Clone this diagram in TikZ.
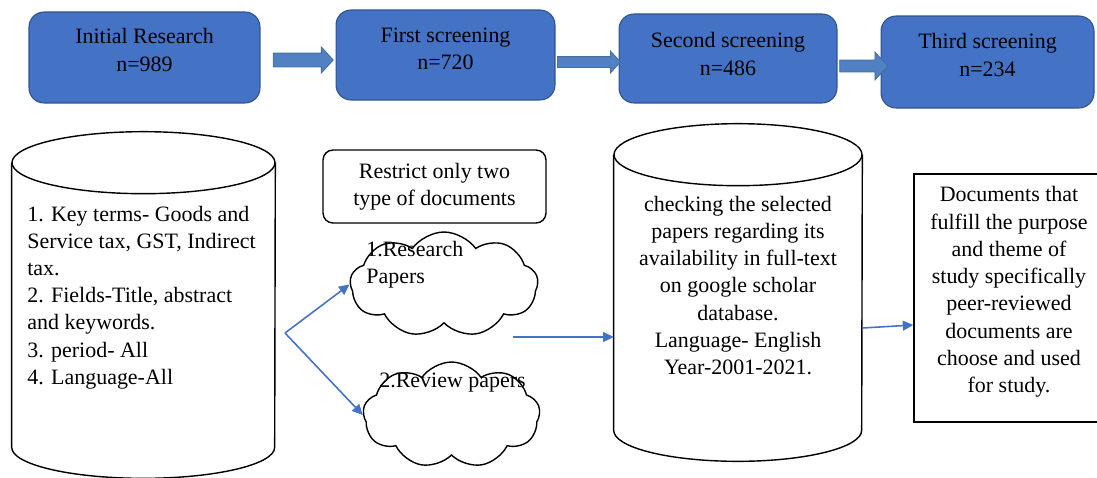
\documentclass[tikz,border=0pt]{standalone}
\usepackage{fontspec}
\setmainfont{Liberation Serif}
\usepackage{xcolor}
\definecolor{stageblue}{HTML}{4472C4}
\definecolor{stageedge}{HTML}{2F528F}
\definecolor{arrowfill}{HTML}{5181C2}
\definecolor{arrowedge}{HTML}{41719C}
\definecolor{linkblue}{HTML}{4472C4}
\usetikzlibrary{arrows.meta, positioning, shapes.symbols, shapes.arrows, calc}

\begin{document}
\begin{tikzpicture}[x=0.02cm, y=0.02cm,
    every node/.style={font=\fontsize{12.5}{15.5}\selectfont},
    stage/.style={draw=stageedge, fill=stageblue, line width=0.6pt, rounded corners=0.3cm, inner sep=0pt},
    stagetext/.style={align=center, inner sep=0pt},
    fatarrow/.style={single arrow, draw=arrowedge, fill=arrowfill, line width=0.5pt, inner sep=0pt, single arrow tip angle=95},
    outline/.style={draw, line width=0.8pt},
    puff/.style={cloud, cloud puffs=9, cloud puff arc=110, cloud ignores aspect, draw, line width=0.8pt, inner sep=0pt},
    link/.style={draw=linkblue, line width=0.9pt, -{Triangle[length=6pt, width=5.6pt]}},
  ]
  \useasboundingbox (0,0) rectangle (1097,-477);

  % screening stages
  \node[stage, minimum width=4.62cm, minimum height=1.82cm] (init) at (144.5,-57.5) {};
  \node[stagetext] (initT) at (144.5,-50) {Initial Research\\n=989};
  \node[stage, minimum width=4.38cm, minimum height=1.8cm] (first) at (445.5,-55) {};
  \node[stagetext] (firstT) at (445.5,-48.5) {First screening\\n=720};
  \node[stage, minimum width=4.36cm, minimum height=1.78cm] (second) at (728,-58.5) {};
  \node[stagetext] (secondT) at (728,-54) {Second screening\\n=486};
  \node[stage, minimum width=4.26cm, minimum height=1.84cm] (third) at (987.5,-62) {};
  \node[stagetext] (thirdT) at (987.5,-55) {Third screening\\n=234};

  % block arrows between the stages
  \node[fatarrow, minimum height=1.2cm, inner ysep=0.13cm, single arrow head extend=0.12cm] (a1) at (300,-60) {};
  \node[fatarrow, minimum height=1.26cm, inner ysep=0.1cm, single arrow head extend=0.11cm] (a2) at (586.5,-62) {};
  \node[fatarrow, minimum height=0.96cm, inner ysep=0.11cm, single arrow head extend=0.16cm] (a3) at (861,-66) {};

  % search terms (cylinder)
  \node[inner sep=0pt, minimum width=5.26cm, minimum height=5.68cm] (keys) at (143.5,-305) {};
  \draw[outline] (keys.north west) -- (keys.south west) arc[start angle=180, end angle=360, x radius=131.5, y radius=31] -- (keys.north east);
  \draw[outline] (keys.north) ellipse [x radius=131.5, y radius=31];
  \node[align=left, anchor=west, inner sep=0pt] (keysT) at (27,-297.5) {1. Key terms- Goods and\\Service tax, GST, Indirect\\tax.\\2. Fields-Title, abstract\\and keywords.\\3. period- All\\4. Language-All};

  % document types
  \node[outline, rounded corners=0.2cm, minimum width=4.46cm, minimum height=1.46cm, align=center, inner sep=0pt] (restrict) at (434.5,-186.5) {Restrict only two\\type of documents};
  \node[puff, minimum width=3.76cm, minimum height=2.1cm] (research) at (444,-284.5) {};
  \node[align=left, anchor=west, inner sep=0pt] (researchT) at (366,-265) {1.Research\\Papers};
  \node[puff, minimum width=3.54cm, minimum height=2.12cm] (review) at (451.5,-415) {};
  \node[anchor=west, inner sep=0pt] (reviewT) at (379,-383) {2.Review papers};

  \coordinate (fork) at (285,-333);
  \draw[link] (fork) -- (research.west);
  \draw[link] (fork) -- (review.west);

  % availability check (cylinder)
  \node[inner sep=0pt, minimum width=4.96cm, minimum height=5.5cm] (check) at (738,-292.5) {};
  \draw[outline] (check.north west) -- (check.south west) arc[start angle=180, end angle=360, x radius=124, y radius=31] -- (check.north east);
  \draw[outline] (check.north) ellipse [x radius=124, y radius=31];
  \node[align=center, inner sep=0pt] (checkT) at (738,-285.5) {checking the selected\\papers regarding its\\availability in full-text\\on google scholar\\database.\\Language- English\\Year-2001-2021.};

  \coordinate (gin) at (513,-337);
  \draw[link] (gin) -- (gin -| check.west);

  % final selection
  \node[outline, minimum width=3.8cm, minimum height=4.96cm, inner sep=0pt] (purpose) at (1009,-298) {};
  \node[align=center, inner sep=0pt] (purposeT) at (1009,-292) {Documents that\\fulfill the purpose\\and theme of\\study specifically\\peer-reviewed\\documents are\\choose and used\\for study.};

  \draw[link] ($(check.east)+(0,-35.5)$) -- ($(purpose.west)+(0,-27)$);
\end{tikzpicture}
\end{document}
